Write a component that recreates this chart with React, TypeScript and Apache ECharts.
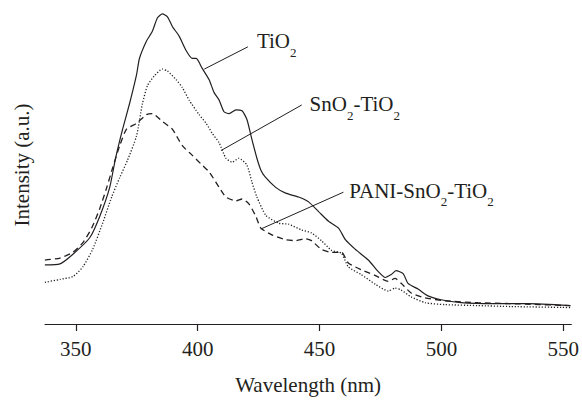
import React, { useEffect, useRef } from "react";
import * as echarts from "echarts";

// ---- Data ----
const tickValues = [350, 400, 450, 500, 550];

const tio2Wl = [337.3, 343.5, 348.8, 355.7, 359.8, 363.9, 366.3, 369.2, 372.0, 374.9, 376.1, 379.0, 381.4, 383.5, 385.5, 387.6, 389.6, 392.4, 395.3, 397.8, 399.4, 401.8, 404.7, 406.7, 408.8, 410.8, 412.9, 415.7, 418.2, 420.2, 422.2, 424.3, 425.9, 427.6, 432.0, 436.1, 441.4, 445.5, 449.6, 453.7, 457.8, 460.6, 464.7, 470.0, 474.1, 476.9, 479.4, 481.4, 484.3, 486.3, 490.4, 494.5, 499.8, 508.0, 521.8, 535.3, 552.9];
const tio2Int = [61, 62, 72, 89, 111, 141, 171, 201, 227, 257, 274, 292, 302, 316, 320, 317, 307, 297, 282, 274, 274, 264, 252, 239, 231, 219, 217, 221, 220, 211, 191, 171, 159, 152, 141, 135, 131, 126, 116, 106, 99, 87, 77, 66, 54, 48, 51, 55, 52, 42, 36, 29, 25, 22, 21, 21, 19];

const snWl = [337.3, 343.5, 348.8, 352.9, 356.9, 361.0, 364.7, 368.0, 371.2, 374.9, 377.3, 379.4, 382.2, 385.5, 387.6, 391.2, 393.7, 396.5, 400.6, 403.5, 405.9, 408.8, 411.6, 414.1, 416.9, 420.2, 422.2, 424.3, 428.0, 433.3, 437.3, 442.7, 446.7, 450.8, 454.9, 459.0, 461.8, 467.1, 472.9, 478.2, 481.0, 483.5, 487.6, 493.3, 501.4, 514.9, 528.4, 552.9];
const snInt = [43, 46, 49, 59, 77, 104, 131, 151, 169, 194, 227, 246, 256, 263, 261, 252, 244, 231, 216, 207, 197, 187, 171, 167, 171, 164, 147, 131, 112, 104, 103, 97, 94, 86, 76, 73, 59, 51, 41, 34, 37, 35, 28, 22, 20, 19, 18, 17];

const paniWl = [337.3, 343.5, 348.8, 352.9, 356.5, 359.8, 362.7, 365.1, 368.0, 370.8, 374.9, 379.0, 381.4, 385.5, 389.6, 393.7, 397.8, 401.8, 404.7, 408.8, 411.6, 415.7, 418.2, 421.0, 423.9, 425.9, 430.4, 436.1, 440.2, 444.3, 446.7, 450.8, 454.9, 459.0, 461.8, 467.1, 472.9, 478.2, 481.0, 483.5, 487.6, 493.3, 501.4, 514.9, 528.4, 552.9];
const paniInt = [66, 68, 74, 84, 99, 119, 141, 161, 184, 201, 207, 216, 217, 209, 201, 184, 174, 164, 157, 141, 131, 127, 129, 124, 111, 99, 92, 87, 86, 88, 86, 77, 74, 74, 63, 56, 50, 44, 47, 42, 32, 27, 24, 22, 21, 19];

// annotations: leader line [from point on curve, to label], and label anchor
const tio2Leader = [[402.7, 263], [420.6, 286]];
const tio2LabelAt = [424.3, 291];
const snLeader = [[409.6, 179], [442.7, 226]];
const snLabelAt = [445.9, 226];
const paniLeader = [[425.9, 98], [459.8, 136]];
const paniLabelAt = [462.2, 137];

const FONT = "Liberation Serif";
const INK = "#231f20";

const rich = {
  m: { fontSize: 21, lineHeight: 22, verticalAlign: "top", color: INK, fontFamily: FONT },
  s: { fontSize: 13, lineHeight: 28, verticalAlign: "bottom", color: INK, fontFamily: FONT },
};

function annotation(leader: number[][], at: number[], text: string) {
  return {
    markLine: {
      silent: true,
      symbol: ["none", "none"],
      animation: false,
      lineStyle: { color: INK, width: 1, type: "solid" },
      label: { show: false },
      data: [[{ coord: leader[0] }, { coord: leader[1] }]],
    },
    markPoint: {
      silent: true,
      animation: false,
      symbol: "circle",
      symbolSize: 0,
      itemStyle: { color: "transparent" },
      label: {
        show: true,
        position: "right",
        distance: 0,
        offset: [0, 3],
        fontFamily: FONT,
        formatter: text,
        rich,
      },
      data: [{ coord: at }],
    },
  };
}

export default function App() {
  const ref = useRef<HTMLDivElement>(null);
  useEffect(() => {
    document.body.style.margin = "0";
    const chart = echarts.init(ref.current!, null, { renderer: "svg" });
    const zip = (a: number[], b: number[]) => a.map((w, i) => [w, b[i]]);
    chart.setOption({
      animation: false,
      backgroundColor: "#ffffff",
      textStyle: { fontFamily: FONT },
      grid: { left: 45, right: 8, top: 10, bottom: 66 },
      xAxis: {
        type: "value",
        min: 337.35,
        max: 553.3,
        axisLine: { show: true, lineStyle: { color: INK, width: 1.2 } },
        axisTick: { show: true, length: 7, lineStyle: { color: INK, width: 1.2 }, customValues: tickValues },
        axisLabel: { show: true, fontSize: 21, fontFamily: FONT, color: INK, margin: 14, customValues: tickValues },
        splitLine: { show: false },
        name: "Wavelength (nm)",
        nameLocation: "middle",
        nameGap: 50,
        nameTextStyle: { fontSize: 21, fontFamily: FONT, color: INK },
      },
      yAxis: {
        type: "value",
        min: 0,
        max: 324,
        axisLine: { show: false },
        axisTick: { show: false },
        axisLabel: { show: false },
        splitLine: { show: false },
      },
      graphic: [
        {
          type: "text",
          x: 22,
          y: 165,
          rotation: Math.PI / 2,
          style: {
            text: "Intensity (a.u.)",
            fontSize: 21,
            fontFamily: FONT,
            fill: INK,
            textAlign: "center",
            textVerticalAlign: "middle",
          },
        },
      ],
      series: [
        {
          name: "TiO2",
          type: "line",
          data: zip(tio2Wl, tio2Int),
          showSymbol: false,
          symbol: "none",
          smooth: 0.2,
          lineStyle: { color: INK, width: 1.2, type: "solid" },
          ...annotation(tio2Leader, tio2LabelAt, "{m|TiO}{s|2}"),
        },
        {
          name: "SnO2-TiO2",
          type: "line",
          data: zip(snWl, snInt),
          showSymbol: false,
          symbol: "none",
          smooth: 0.2,
          lineStyle: { color: INK, width: 1.3, type: [1.2, 1.8] },
          ...annotation(snLeader, snLabelAt, "{m|SnO}{s|2}{m|-TiO}{s|2}"),
        },
        {
          name: "PANI-SnO2-TiO2",
          type: "line",
          data: zip(paniWl, paniInt),
          showSymbol: false,
          symbol: "none",
          smooth: 0.2,
          lineStyle: { color: INK, width: 1.3, type: [6, 4] },
          ...annotation(paniLeader, paniLabelAt, "{m|PANI-SnO}{s|2}{m|-TiO}{s|2}"),
        },
      ],
    });
    return () => chart.dispose();
  }, []);
  return (
    <div
      ref={ref}
      style={{ position: "fixed", left: 0, top: 0, width: 582, height: 400, background: "#fff" }}
    />
  );
}
